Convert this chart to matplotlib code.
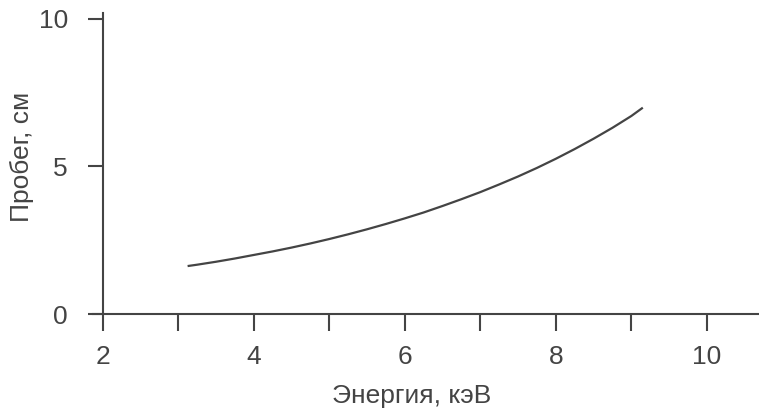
import matplotlib
matplotlib.use("Agg")
import matplotlib.pyplot as plt

energy = [3.14, 3.25, 3.5, 3.75, 4.0, 4.25, 4.5, 4.75, 5.0, 5.25, 5.5, 5.75, 6.0,
          6.25, 6.5, 6.75, 7.0, 7.25, 7.5, 7.75, 8.0, 8.25, 8.5, 8.75, 9.0, 9.14]
range_cm = [1.63, 1.67, 1.77, 1.88, 2.0, 2.12, 2.25, 2.39, 2.54, 2.70, 2.87, 3.05, 3.24,
            3.44, 3.66, 3.89, 4.13, 4.39, 4.66, 4.95, 5.26, 5.59, 5.94, 6.31, 6.71, 6.97]
x_ticks = [2, 3, 4, 5, 6, 7, 8, 9, 10]
x_labels = ["2", "", "4", "", "6", "", "8", "", "10"]
y_ticks = [0, 5, 10]
y_labels = ["0", "5", "10"]

col = "#444444"
plt.rcParams['font.family'] = ['Liberation Sans', 'DejaVu Sans']
fs = 19

fig = plt.figure(figsize=(7.59, 4.12), dpi=100)
ax = fig.add_axes([93/759, 1 - 314/412, (759 - 93)/759, (314 - 13)/412])
ax.plot(energy, range_cm, color=col, lw=1.6)
ax.set_xlim(1.873, 10.69)
ax.set_ylim(0, 10.2)
for s in ["top", "right"]:
    ax.spines[s].set_visible(False)
ax.spines["left"].set_position(("data", 2))
for s in ["left", "bottom"]:
    ax.spines[s].set_color(col)
    ax.spines[s].set_linewidth(1.5)
ax.set_xticks(x_ticks)
ax.set_xticklabels(x_labels)
ax.set_yticks(y_ticks)
ax.set_yticklabels(y_labels)
ax.tick_params(axis="x", direction="out", length=12, width=1.5, color=col,
               labelcolor=col, labelsize=fs, pad=10)
ax.tick_params(axis="y", direction="out", length=11, width=1.5, color=col,
               labelcolor=col, labelsize=fs, pad=14)
ax.set_xlabel("Энергия, кэВ", color=col, fontsize=fs)
ax.set_ylabel("Пробег, см", color=col, fontsize=fs)
ax.xaxis.set_label_coords((412 - 93) / 666, (314 - 384) / 301)
ax.xaxis.label.set_verticalalignment("top")
ax.yaxis.set_label_coords((34 - 93) / 666, (314 - 157) / 301)
fig.savefig("out.png", dpi=100)
